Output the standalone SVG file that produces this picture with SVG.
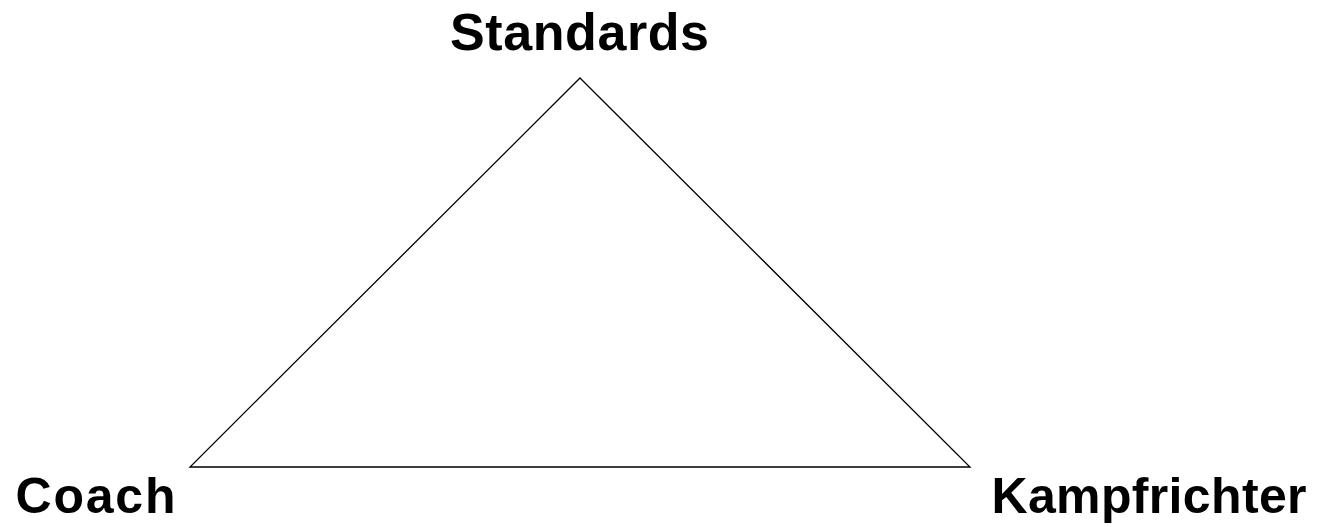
<svg xmlns="http://www.w3.org/2000/svg" width="1330" height="527" viewBox="0 0 1330 527">
<style>
.lbl{font-family:"Liberation Sans",Arial,sans-serif;font-weight:bold;font-size:50px;fill:#000}
.top{font-size:52px}
.edge{fill:none;stroke:#000;stroke-width:1.3}
</style>
<rect width="1330" height="527" fill="#fff"/>
<g id="connectors">
<path class="edge" d="M580,78 L970,467 L190,467 Z" stroke-linejoin="miter"/>
</g>
<g id="standards"><text class="lbl top" x="450" y="49.5" textLength="259" lengthAdjust="spacing">Standards</text></g>
<g id="coach"><text class="lbl" x="15.5" y="513" textLength="160" lengthAdjust="spacing">Coach</text></g>
<g id="kampfrichter"><text class="lbl" x="991.5" y="512.5" textLength="315" lengthAdjust="spacing">Kampfrichter</text></g>
</svg>
